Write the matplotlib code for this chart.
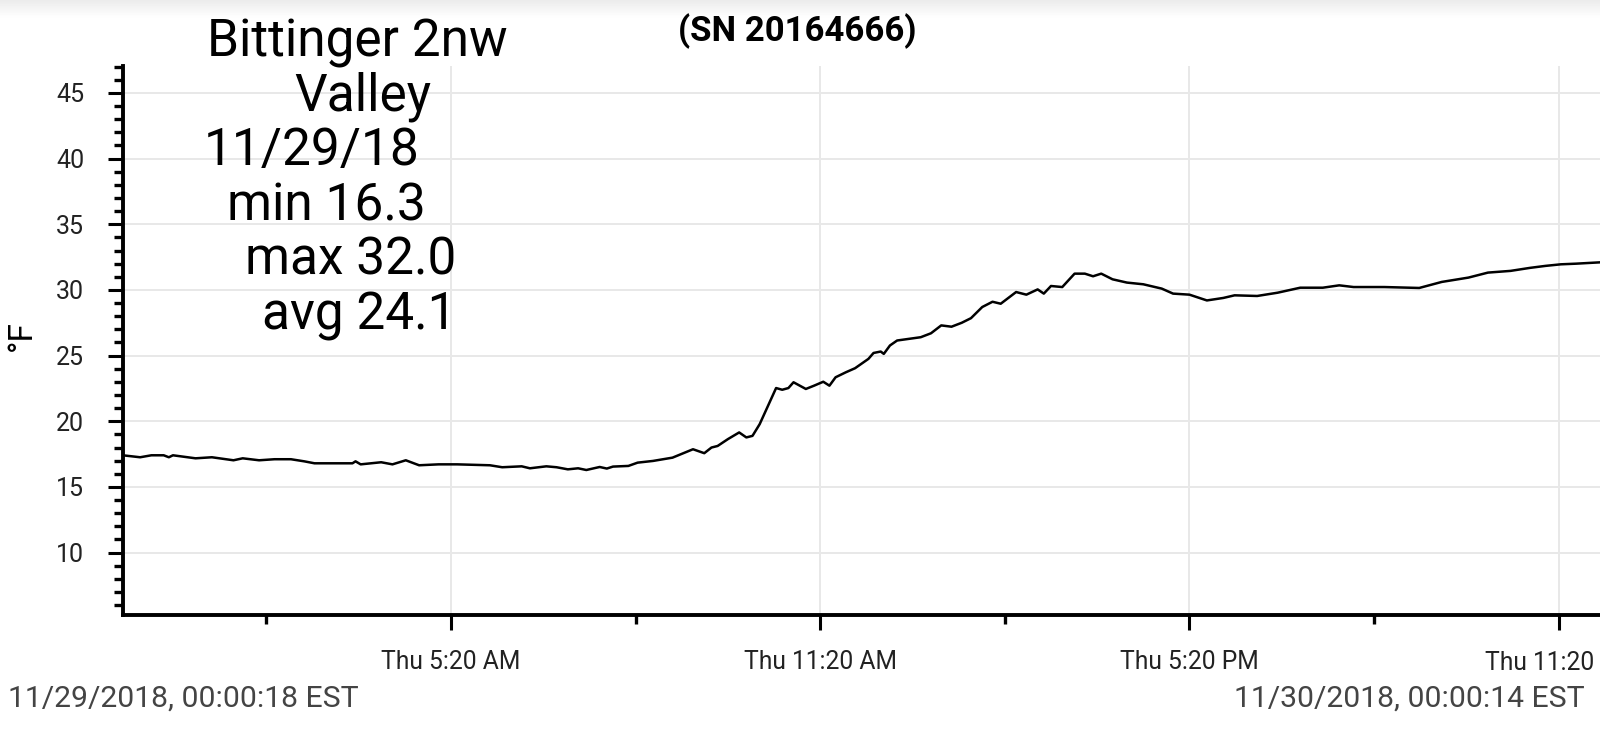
import matplotlib
matplotlib.use("Agg")
import matplotlib.pyplot as plt
import matplotlib.dates as mdates
from matplotlib.ticker import MultipleLocator, FuncFormatter
import numpy as np
import pandas as pd

# logger readings, 11/29/2018 (time of day, deg F)
times = ["00:00", "00:17", "00:28", "00:40", "00:45", "00:49", "01:11", "01:27",
         "01:48", "01:57", "02:13", "02:28", "02:44", "02:57", "03:07", "03:44",
         "03:47", "03:52", "04:12", "04:23", "04:36", "04:49", "05:08", "05:26",
         "05:58", "06:10", "06:29", "06:37", "06:53", "07:03", "07:14", "07:24",
         "07:32", "07:45", "07:52", "07:58", "08:13", "08:22", "08:37", "08:56",
         "09:16", "09:27", "09:34", "09:40", "09:50", "10:01", "10:08", "10:14",
         "10:21", "10:37", "10:43", "10:49", "10:54", "11:06", "11:14", "11:23",
         "11:29", "11:35", "11:45", "11:54", "12:07", "12:12", "12:19", "12:22",
         "12:28", "12:35", "12:58", "13:08", "13:18", "13:28", "13:38", "13:47",
         "13:58", "14:08", "14:16", "14:31", "14:41", "14:52", "14:58", "15:05",
         "15:16", "15:28", "15:38", "15:46", "15:54", "16:05", "16:19", "16:35",
         "16:53", "17:04", "17:20", "17:37", "17:53", "18:04", "18:26", "18:46",
         "19:08", "19:30", "19:46", "20:00", "20:30", "21:04", "21:26", "21:52",
         "22:11", "22:33", "22:52", "23:07", "23:22", "23:37", "24:00"]
temps = [17.41, 17.26, 17.41, 17.41, 17.26, 17.41, 17.18, 17.26,
         17.03, 17.18, 17.03, 17.11, 17.11, 16.95, 16.80, 16.80,
         16.95, 16.72, 16.88, 16.72, 17.03, 16.65, 16.72, 16.72,
         16.65, 16.50, 16.57, 16.42, 16.57, 16.50, 16.34, 16.42,
         16.29, 16.52, 16.40, 16.55, 16.60, 16.85, 16.98, 17.23,
         17.87, 17.57, 18.00, 18.12, 18.64, 19.15, 18.77, 18.89,
         19.78, 22.53, 22.40, 22.53, 22.97, 22.46, 22.71, 23.01,
         22.71, 23.35, 23.73, 24.04, 24.75, 25.20, 25.31, 25.13,
         25.77, 26.15, 26.40, 26.70, 27.30, 27.20, 27.50, 27.85,
         28.70, 29.10, 28.95, 29.84, 29.64, 30.04, 29.72, 30.30,
         30.22, 31.24, 31.24, 31.04, 31.24, 30.81, 30.56, 30.43,
         30.10, 29.72, 29.64, 29.20, 29.39, 29.59, 29.54, 29.79,
         30.17, 30.17, 30.35, 30.22, 30.22, 30.15, 30.61, 30.94,
         31.32, 31.45, 31.68, 31.83, 31.95, 32.00, 32.10]

major_ticks = ["05:20", "11:20", "17:20", "23:20"]
minor_ticks = ["02:20", "08:20", "14:20", "20:20"]
y_ticks = [10, 15, 20, 25, 30, 35, 40, 45]

info_lines = ["Bittinger 2nw", "Valley", "11/29/18", "min 16.3", "max 32.0", "avg 24.1"]
info_left = [207, 294, 204, 227, 245, 262]  # px from left edge

start_label = "11/29/2018, 00:00:18 EST"
end_label = "11/30/2018, 00:00:14 EST"
serial = "(SN 20164666)"

day = pd.Timestamp("2018-11-29")


def to_dt(lst):
    return [(day + pd.to_timedelta(t + ":00")).to_pydatetime() for t in lst]


plt.rcParams['font.family'] = ['Roboto', 'DejaVu Sans']

W, H = 1600, 731
fig = plt.figure(figsize=(W / 100, H / 100), dpi=100)

# light header shadow at the very top
hdr = fig.add_axes([0, 1 - 18 / H, 1, 18 / H])
hdr.imshow(np.linspace(0.925, 1.0, 32).reshape(-1, 1), cmap='gray', vmin=0, vmax=1,
           aspect='auto', extent=[0, 1, 0, 1])
hdr.axis('off')

ax = fig.add_axes([123 / W, 116 / H, 1477 / W, 549 / H])
ax.plot(to_dt(times), temps, color='black', lw=1.8, solid_joinstyle='round')

ax.set_xlim(day + pd.Timedelta(seconds=18), day + pd.Timedelta(days=1, seconds=14))
ax.set_ylim(5.25, 47.05)

major_dt = to_dt(major_ticks)
ax.set_xticks(mdates.date2num(major_dt))
ax.set_xticks(mdates.date2num(to_dt(minor_ticks)), minor=True)


def fmt_time(x, pos=None):
    d = mdates.num2date(x)
    return f"{d:%a} {d.hour % 12 or 12}:{d:%M} {d:%p}"


# last label runs off the right edge in the original, only "Thu 11:20" shows
def fmt_tick(x, pos=None):
    if pos == len(major_ticks) - 1:
        return ""
    return fmt_time(x)


ax.xaxis.set_major_formatter(FuncFormatter(fmt_tick))
ax.annotate(fmt_time(mdates.date2num(major_dt[-1])).rsplit(" ", 1)[0],
            xy=(major_dt[-1], 0), xycoords=('data', 'axes fraction'),
            xytext=(-19 * 0.72, -48 * 0.72), textcoords='offset points',
            ha='center', va='center', fontsize=17.7, color='#222222')

ax.set_yticks(y_ticks)
ax.yaxis.set_minor_locator(MultipleLocator(1))

for s in ['top', 'right']:
    ax.spines[s].set_visible(False)
for s in ['left', 'bottom']:
    ax.spines[s].set_linewidth(2.8)

ax.tick_params(axis='both', which='major', length=11, width=2.2, direction='out',
               labelcolor='#222222')
ax.tick_params(axis='x', which='major', labelsize=17.7, pad=14)
ax.tick_params(axis='y', which='major', labelsize=18, pad=17)
ax.tick_params(axis='both', which='minor', length=6.5, width=2.4, direction='out')

ax.grid(True, which='major', color='#e8e8e8', lw=1.4)
ax.set_axisbelow(True)

fig.text(22 / W, 1 - 336 / H, "°F", rotation=90, ha='center', va='center', fontsize=24)

# station text block
base_y = 56
for i, (line, left) in enumerate(zip(info_lines, info_left)):
    fig.text(left / W, 1 - (base_y + i * 54.7) / H, line, ha='left', va='baseline',
             fontsize=37, color='black')

fig.text(797 / W, 1 - 41 / H, serial, ha='center', va='baseline', fontsize=25,
         fontweight='bold', color='black')

fig.text(8 / W, 1 - 707 / H, start_label, ha='left', va='baseline', fontsize=21.7, color='#444444')
fig.text(1585 / W, 1 - 707 / H, end_label, ha='right', va='baseline', fontsize=21.7, color='#444444')

fig.savefig("out.png", dpi=100)
